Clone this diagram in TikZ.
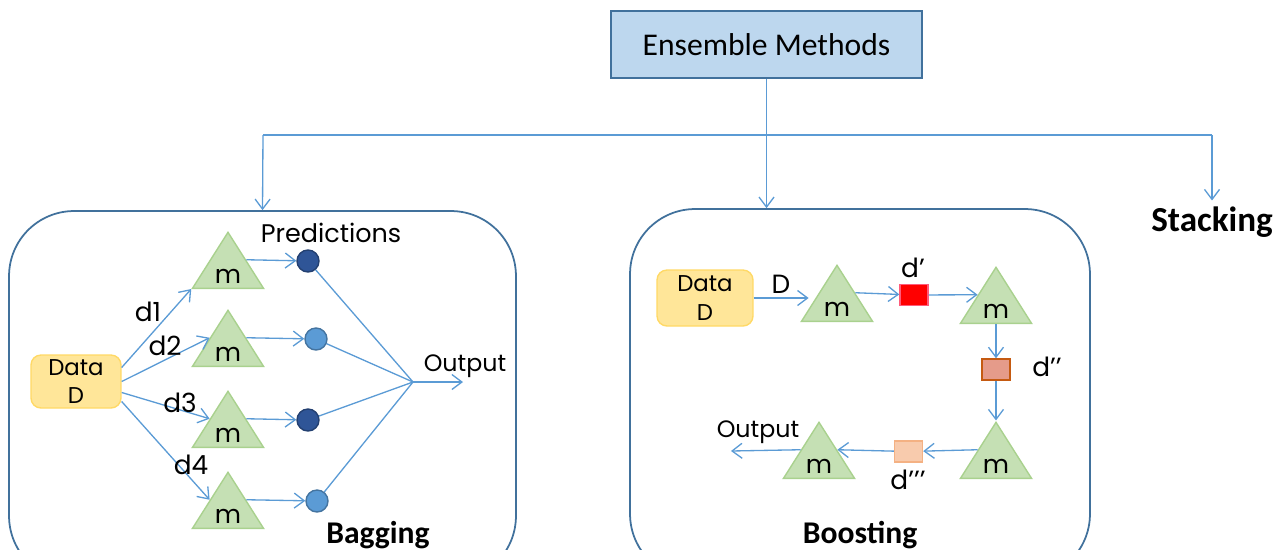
\documentclass[tikz,border=0pt]{standalone}
\usepackage{fontspec}
\setmainfont{Carlito}
\newfontfamily\geo{Poppins}
\usetikzlibrary{arrows.meta,shapes.geometric,calc}
\definecolor{linec}{HTML}{5B9BD5}
\definecolor{grpc}{HTML}{41719C}
\definecolor{ensfill}{HTML}{BDD7EE}
\definecolor{ensline}{HTML}{41719C}
\definecolor{trifill}{HTML}{C5E0B4}
\definecolor{triline}{HTML}{A9D18E}
\definecolor{datafill}{HTML}{FFE699}
\definecolor{dataline}{HTML}{FFD966}
\definecolor{dkc}{HTML}{2F5597}
\definecolor{ltc}{HTML}{5B9BD5}
\definecolor{sqa}{HTML}{FF0000}
\definecolor{sqaline}{HTML}{FF5B7A}
\definecolor{sqb}{HTML}{E59B8A}
\definecolor{sqbline}{HTML}{C55A11}
\definecolor{sqc}{HTML}{F8CBAD}
\definecolor{sqcline}{HTML}{F4B183}
\tikzset{
  ln/.style={draw=linec,line width=0.75pt},
  arr/.style={ln,-{Straight Barb[length=2mm,width=3mm]}},
  lbl/.style={font=\geo\fontsize{13.5}{16}\selectfont,inner sep=1pt},
  dlbl/.style={font=\geo\fontsize{15}{17}\selectfont,inner sep=1pt},
  title/.style={font=\bfseries\fontsize{18}{20}\selectfont},
  ens/.style={draw=ensline,fill=ensfill,line width=0.9pt,minimum width=6.22cm,minimum height=1.34cm,font=\fontsize{18}{20}\selectfont},
  grp/.style={draw=grpc,line width=1pt,rounded corners=1.3cm,minimum width=10.14cm,minimum height=7.4cm},
  data/.style={fill=datafill,draw=dataline,line width=0.8pt,rounded corners=0.2cm,minimum width=1.8cm,minimum height=1.06cm,align=center,inner sep=0pt,font=\geo\fontsize{13}{16}\selectfont},
  tri/.style={isosceles triangle,isosceles triangle stretches,shape border rotate=90,minimum width=1.42cm,minimum height=1.12cm,fill=trifill,draw=triline,line width=0.8pt,inner sep=0pt,anchor=lower side,
    label={[anchor=base,yshift=0.12cm,font=\geo\fontsize{14.5}{16}\selectfont]lower side:m}},
  dot/.style={circle,minimum size=0.44cm,inner sep=0pt,line width=0.8pt},
  sq/.style={minimum width=0.56cm,minimum height=0.42cm,inner sep=0pt,line width=0.8pt}
}
\begin{document}
\begin{tikzpicture}[x=0.02cm,y=-0.02cm]
\useasboundingbox (0,0) rectangle (1285,549);
\clip (0,0) rectangle (1285,549);
\node[ens] (ens) at (766.5,44.5) {Ensemble Methods};
\node[grp] (bag) at (262.5,396) {};
\node[grp,minimum width=9.2cm] (boost) at (860,394) {};
\node[title,font=\bfseries\fontsize{20}{22}\selectfont] (stack) at (1212,222) {Stacking};
\node[title] (bagt) at (378,535) {Bagging};
\node[title] (boostt) at (860,535) {Boosting};
\coordinate (hL) at (263,135);
\coordinate (hR) at (1212,135);
\draw[ln] (ens.south) -- (ens.south |- hL);
\draw[ln] (hL) -- (hR);
\draw[arr] (hL) -- (bag.north);
\draw[arr] (ens.south |- hL) -- (ens.south |- boost.north);
\draw[arr] (hR) -- (stack.north);
% bagging
\node[data] (dataA) at (76,381.5) {Data\\D};
\coordinate (mrg) at (413,382);
\coordinate (outA) at (463,382);
\foreach \i/\y/\cx/\cc in {1/289/308/dkc,2/367/316/ltc,3/448/308/dkc,4/529/317/ltc}{
  \node[tri] (t\i) at (228,\y) {};
  \node[dot,fill=\cc,draw=\cc!75!black] (c\i) at (\cx,\y-28) {};
  \draw[arr] (t\i.right side) -- (c\i);
  \draw[ln] (c\i) -- (mrg);
}
\draw[arr] (mrg) -- (outA);
\draw[arr] ($(dataA.east)+(0,-14)$) -- (t1.left corner);
\draw[arr] (dataA.east) -- (t2.left side);
\draw[arr] ($(dataA.east)+(0,11)$) -- (t3.left side);
\draw[arr] ($(dataA.east)+(0,20)$) -- (t4.left side);
\node[lbl,font=\geo\fontsize{14.5}{16}\selectfont] (pred) at (331,233) {Predictions};
\node[lbl] (outAl) at (465,366) {Output};
\node[dlbl] (d1) at (148,312) {d1};
\node[dlbl] (d2) at (165,346) {d2};
\node[dlbl] (d3) at (180,403) {d3};
\node[dlbl] (d4) at (191,465) {d4};
% boosting
\node[data,minimum width=1.92cm,minimum height=1.12cm] (dataB) at (705,298) {Data\\D};
\node[tri] (b1) at (837,322) {};
\node[tri] (b2) at (996,324) {};
\node[tri] (b3) at (996,479) {};
\node[tri] (b4) at (819,479) {};
\node[sq,fill=sqa,draw=sqaline] (r1) at (914,295) {};
\node[sq,fill=sqb,draw=sqbline] (r2) at (996,369.5) {};
\node[sq,fill=sqc,draw=sqcline] (r3) at (908.5,451.5) {};
\coordinate (outB) at (731,451);
\draw[arr,shorten >=0.2cm] (dataB.east) -- (dataB.east -| b1.left side);
\draw[arr] (b1.right side) -- (r1);
\draw[arr] (r1) -- (b2.left side);
\draw[arr] (b2.lower side) -- (r2);
\draw[arr] (r2) -- (b3.apex);
\draw[arr] (b3.left side) -- (r3);
\draw[arr] (r3) -- (b4.right side);
\draw[arr] (b4.left side) -- (outB);
\node[dlbl] (dD) at (781,284) {D};
\node[dlbl] (dp1) at (913,268) {d’};
\node[dlbl] (dp2) at (1047,367) {d’’};
\node[dlbl] (dp3) at (908,480) {d’’’};
\node[lbl] (outBl) at (758,432) {Output};
\end{tikzpicture}
\end{document}
